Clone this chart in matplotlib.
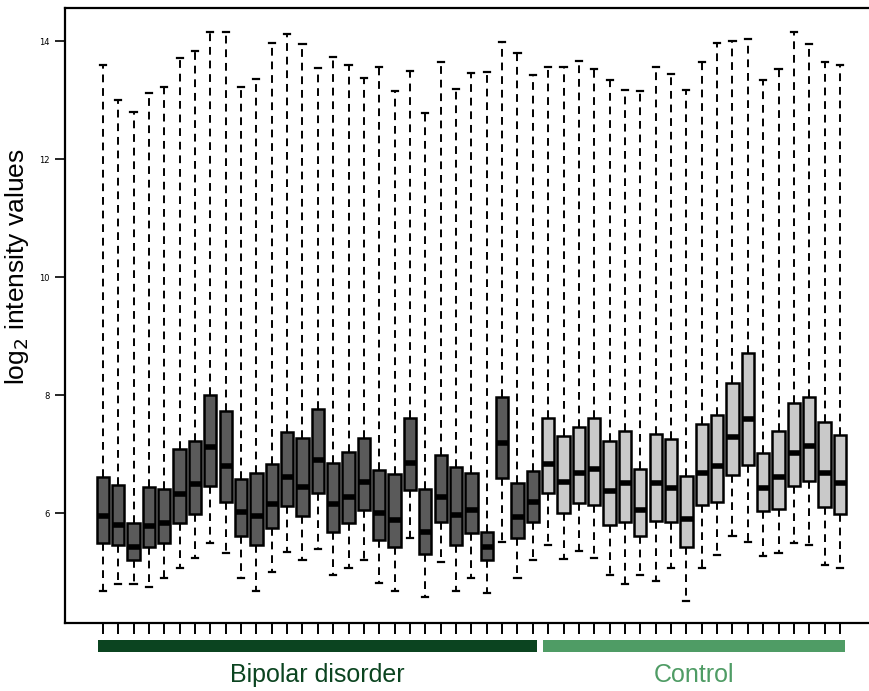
import numpy as np
import matplotlib
matplotlib.use("Agg")
import matplotlib.pyplot as plt
import matplotlib.transforms as mtransforms
from matplotlib.patches import Rectangle

# groups
groups = ["Bipolar disorder", "Control"]
group_sizes = [29, 20]

# box statistics (log2 intensity)
whis_hi = [13.59, 13.00, 12.80, 13.12, 13.22, 13.71, 13.83, 14.15, 14.15, 13.22,
           13.36, 13.97, 14.12, 13.95, 13.54, 13.73, 13.59, 13.37, 13.56, 13.15,
           13.49, 12.78, 13.64, 13.19, 13.46, 13.47, 13.98, 13.80, 13.42,
           13.56, 13.56, 13.66, 13.53, 13.34, 13.17, 13.15, 13.56, 13.44, 13.17,
           13.64, 13.97, 14.00, 14.03, 13.34, 13.53, 14.15, 13.95, 13.64, 13.59]
q3 = [6.61, 6.47, 5.83, 6.44, 6.41, 7.08, 7.22, 8.00, 7.73, 6.58,
      6.69, 6.83, 7.37, 7.27, 7.76, 6.85, 7.03, 7.27, 6.73, 6.66,
      7.61, 6.41, 6.98, 6.78, 6.68, 5.69, 7.97, 6.51, 6.71,
      7.61, 7.31, 7.46, 7.61, 7.22, 7.39, 6.75, 7.34, 7.25, 6.63,
      7.51, 7.66, 8.20, 8.71, 7.02, 7.39, 7.86, 7.97, 7.54, 7.32]
med = [5.95, 5.80, 5.42, 5.78, 5.83, 6.32, 6.49, 7.12, 6.80, 6.02,
       5.95, 6.15, 6.61, 6.44, 6.90, 6.15, 6.27, 6.53, 6.00, 5.88,
       6.85, 5.69, 6.27, 5.97, 6.05, 5.42, 7.19, 5.93, 6.19,
       6.83, 6.53, 6.68, 6.75, 6.37, 6.51, 6.05, 6.51, 6.42, 5.90,
       6.69, 6.80, 7.29, 7.59, 6.42, 6.61, 7.02, 7.14, 6.69, 6.51]
q1 = [5.49, 5.46, 5.20, 5.42, 5.49, 5.83, 5.98, 6.46, 6.19, 5.61,
      5.47, 5.75, 6.12, 5.95, 6.34, 5.69, 5.83, 6.05, 5.54, 5.42,
      6.39, 5.31, 5.85, 5.46, 5.66, 5.20, 6.59, 5.58, 5.85,
      6.34, 6.00, 6.17, 6.14, 5.80, 5.85, 5.61, 5.86, 5.85, 5.42,
      6.14, 6.19, 6.64, 6.81, 6.03, 6.08, 6.46, 6.54, 6.10, 5.98]
whis_lo = [4.69, 4.80, 4.80, 4.75, 4.90, 5.08, 5.24, 5.49, 5.32, 4.90,
           4.69, 5.00, 5.34, 5.20, 5.39, 4.95, 5.08, 5.20, 4.81, 4.69,
           5.58, 4.58, 5.17, 4.69, 4.90, 4.64, 5.51, 4.90, 5.20,
           5.46, 5.22, 5.36, 5.24, 4.95, 4.80, 4.95, 4.86, 5.08, 4.51,
           5.08, 5.29, 5.61, 5.51, 5.27, 5.32, 5.49, 5.46, 5.12, 5.08]

box_colors = ["#5a5a5a", "#c9c9c9"]
group_colors = ["#0b4420", "#4f9c65"]

n = len(med)
pos = np.arange(1, n + 1)
stats = []
for i in range(n):
    stats.append(dict(med=med[i], q1=q1[i], q3=q3[i],
                      whislo=whis_lo[i], whishi=whis_hi[i], fliers=[]))

fig = plt.figure(figsize=(8.69, 6.91), dpi=100)
ax = fig.add_axes([0.0748, 0.0984, 0.9353, 0.8900])

bp = ax.bxp(stats, positions=pos, widths=0.8, capwidths=0.4, patch_artist=True,
            boxprops=dict(linewidth=1.8, edgecolor="black"),
            medianprops=dict(color="black", linewidth=4, solid_capstyle="butt"),
            whiskerprops=dict(color="black", linewidth=1.4, linestyle=(0, (4, 3))),
            capprops=dict(color="black", linewidth=1.6))

start = 0
for g, size in enumerate(group_sizes):
    for b in bp["boxes"][start:start + size]:
        b.set_facecolor(box_colors[g])
    start += size

# R-style axis range
ax.set_xlim(0.5 - 0.04 * n, n + 0.5 + 0.04 * n)
ax.set_ylim(4.14, 14.56)

ax.set_xticks(pos)
ax.set_xticklabels([])
ax.tick_params(axis="x", length=8, width=1.4, direction="out")
ax.set_yticks([6, 8, 10, 12, 14])
ax.tick_params(axis="y", length=7, width=1.2, labelsize=6, pad=4)

for s in ax.spines.values():
    s.set_linewidth(1.6)

ax.set_ylabel("log$_2$ intensity values", fontsize=19, family="Liberation Sans")
ax.yaxis.set_label_coords(-0.042, 0.58)

# group bars and labels below the axis
trans = mtransforms.blended_transform_factory(ax.transData, ax.transAxes)
start = 1
for g, size in enumerate(group_sizes):
    x0 = start - 0.33
    x1 = start + size - 1 + 0.3
    ax.add_patch(Rectangle((x0, -0.047), x1 - x0, 0.0195, transform=trans,
                           facecolor=group_colors[g], edgecolor="none", clip_on=False))
    ax.text((x0 + x1) / 2, -0.085, groups[g], transform=trans, ha="center", va="center",
            fontsize=18, color=group_colors[g], family="Liberation Sans")
    start += size

fig.savefig("out.png", dpi=100)
